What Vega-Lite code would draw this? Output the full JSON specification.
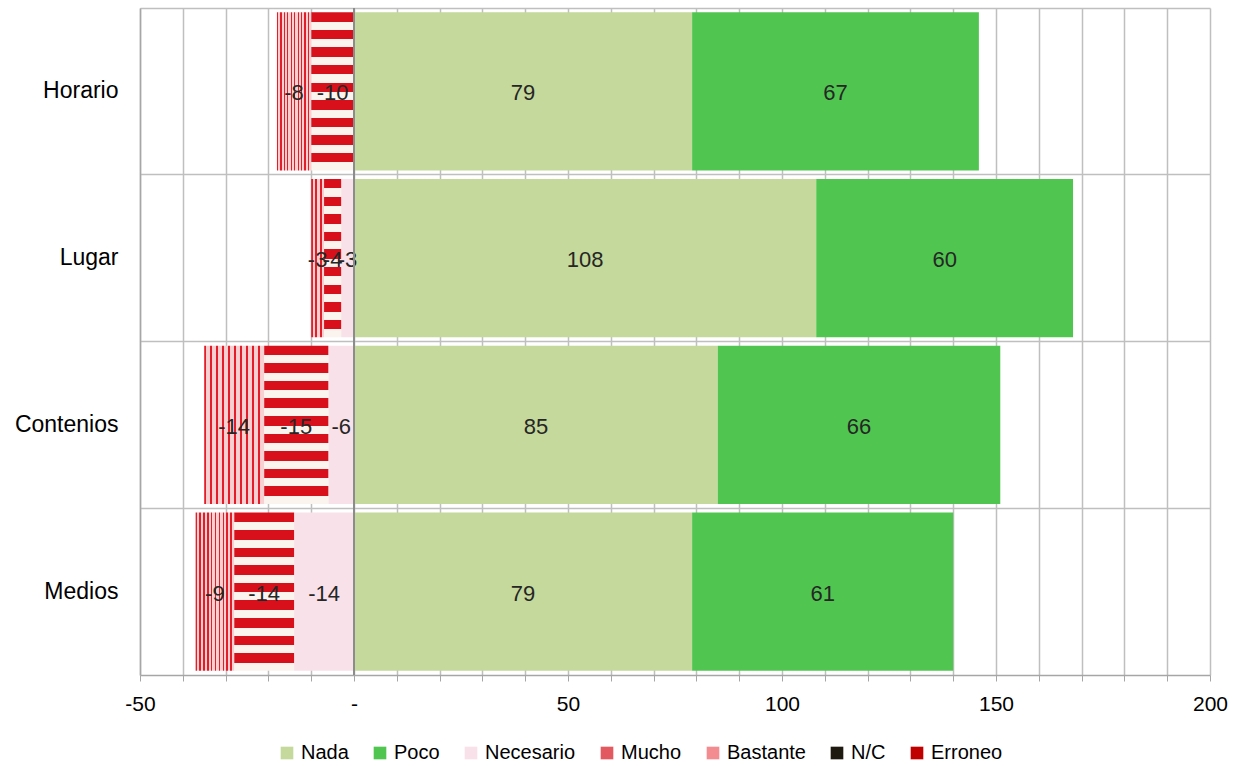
{
  "$schema": "https://vega.github.io/schema/vega-lite/v6.json",
  "width": 1070,
  "height": 667,
  "autosize": {"type": "none"},
  "padding": {"left": 140, "top": 8, "right": 23, "bottom": 91},
  "background": "white",
  "config": {
    "font": "Liberation Sans",
    "view": {"stroke": null},
    "locale": {
      "number": {"decimal": ".", "thousands": ",", "grouping": [3], "currency": ["", ""], "minus": "-"}
    }
  },
  "data": {
    "values": [
      {"categoria": "Horario", "serie": "Nada", "valor": 79},
      {"categoria": "Horario", "serie": "Poco", "valor": 67},
      {"categoria": "Horario", "serie": "Mucho", "valor": -10},
      {"categoria": "Horario", "serie": "Bastante", "valor": -8},
      {"categoria": "Lugar", "serie": "Nada", "valor": 108},
      {"categoria": "Lugar", "serie": "Poco", "valor": 60},
      {"categoria": "Lugar", "serie": "Necesario", "valor": -3},
      {"categoria": "Lugar", "serie": "Mucho", "valor": -4},
      {"categoria": "Lugar", "serie": "Bastante", "valor": -3},
      {"categoria": "Contenios", "serie": "Nada", "valor": 85},
      {"categoria": "Contenios", "serie": "Poco", "valor": 66},
      {"categoria": "Contenios", "serie": "Necesario", "valor": -6},
      {"categoria": "Contenios", "serie": "Mucho", "valor": -15},
      {"categoria": "Contenios", "serie": "Bastante", "valor": -14},
      {"categoria": "Medios", "serie": "Nada", "valor": 79},
      {"categoria": "Medios", "serie": "Poco", "valor": 61},
      {"categoria": "Medios", "serie": "Necesario", "valor": -14},
      {"categoria": "Medios", "serie": "Mucho", "valor": -14},
      {"categoria": "Medios", "serie": "Bastante", "valor": -9}
    ]
  },
  "transform": [
    {"calculate": "indexof(['Nada','Poco','Necesario','Mucho','Bastante'], datum.serie)", "as": "orden"}
  ],
  "encoding": {
    "y": {
      "field": "categoria",
      "type": "nominal",
      "sort": ["Horario", "Lugar", "Contenios", "Medios"],
      "scale": {"paddingInner": 0, "paddingOuter": 0},
      "axis": {
        "title": null,
        "bandPosition": 0,
        "grid": true,
        "gridColor": "#bfbfbf",
        "gridWidth": 1.5,
        "ticks": false,
        "domainColor": "#a6a6a6",
        "domainWidth": 1.5,
        "labelFontSize": 23,
        "labelColor": "#000000",
        "labelPadding": 22
      }
    }
  },
  "layer": [
    {
      "mark": {"type": "bar", "height": {"band": 0.95}},
      "encoding": {
        "x": {
          "field": "valor",
          "type": "quantitative",
          "stack": "zero",
          "scale": {"domain": [-50, 200], "nice": false, "zero": false},
          "axis": {
            "title": null,
            "values": [-50, -40, -30, -20, -10, 0, 10, 20, 30, 40, 50, 60, 70, 80, 90, 100, 110, 120, 130, 140, 150, 160, 170, 180, 190, 200],
            "labelExpr": "datum.value === 0 ? '-' : (datum.value % 50 === 0 ? replace(datum.label, '\u2212', '-') : '')",
            "grid": true,
            "gridColor": "#bfbfbf",
            "gridWidth": 1.5,
            "domainColor": "#a6a6a6",
            "domainWidth": 1.5,
            "tickColor": "#a6a6a6",
            "tickSize": 6,
            "labelFontSize": 21,
            "labelColor": "#000000",
            "labelPadding": 12,
            "labelFlush": false
          }
        },
        "order": {"field": "orden", "type": "quantitative"},
        "fill": {
          "condition": [
            {
              "test": "datum.serie === 'Mucho'",
              "value": {
                "gradient": "linear", "x1": 0, "y1": 0, "x2": 0, "y2": 1,
                "stops": [
                  {"offset": 0, "color": "#d8101c"}, {"offset": 0.06, "color": "#d8101c"},
                  {"offset": 0.06, "color": "#fbf3ee"}, {"offset": 0.1111, "color": "#fbf3ee"},
                  {"offset": 0.1111, "color": "#d8101c"}, {"offset": 0.1711, "color": "#d8101c"},
                  {"offset": 0.1711, "color": "#fbf3ee"}, {"offset": 0.2222, "color": "#fbf3ee"},
                  {"offset": 0.2222, "color": "#d8101c"}, {"offset": 0.2822, "color": "#d8101c"},
                  {"offset": 0.2822, "color": "#fbf3ee"}, {"offset": 0.3333, "color": "#fbf3ee"},
                  {"offset": 0.3333, "color": "#d8101c"}, {"offset": 0.3933, "color": "#d8101c"},
                  {"offset": 0.3933, "color": "#fbf3ee"}, {"offset": 0.4444, "color": "#fbf3ee"},
                  {"offset": 0.4444, "color": "#d8101c"}, {"offset": 0.5044, "color": "#d8101c"},
                  {"offset": 0.5044, "color": "#fbf3ee"}, {"offset": 0.5556, "color": "#fbf3ee"},
                  {"offset": 0.5556, "color": "#d8101c"}, {"offset": 0.6156, "color": "#d8101c"},
                  {"offset": 0.6156, "color": "#fbf3ee"}, {"offset": 0.6667, "color": "#fbf3ee"},
                  {"offset": 0.6667, "color": "#d8101c"}, {"offset": 0.7267, "color": "#d8101c"},
                  {"offset": 0.7267, "color": "#fbf3ee"}, {"offset": 0.7778, "color": "#fbf3ee"},
                  {"offset": 0.7778, "color": "#d8101c"}, {"offset": 0.8378, "color": "#d8101c"},
                  {"offset": 0.8378, "color": "#fbf3ee"}, {"offset": 0.8889, "color": "#fbf3ee"},
                  {"offset": 0.8889, "color": "#d8101c"}, {"offset": 0.9489, "color": "#d8101c"},
                  {"offset": 0.9489, "color": "#fbf3ee"}, {"offset": 1, "color": "#fbf3ee"}
                ]
              }
            },
            {
              "test": "datum.serie === 'Bastante'",
              "value": {
                "gradient": "linear", "x1": 0, "y1": 0, "x2": 1, "y2": 0,
                "stops": [
                  {"offset": 0, "color": "#e31e28"}, {"offset": 0.035, "color": "#e31e28"},
                  {"offset": 0.035, "color": "#f9d0d2"}, {"offset": 0.1, "color": "#f9d0d2"},
                  {"offset": 0.1, "color": "#e31e28"}, {"offset": 0.135, "color": "#e31e28"},
                  {"offset": 0.135, "color": "#f9d0d2"}, {"offset": 0.2, "color": "#f9d0d2"},
                  {"offset": 0.2, "color": "#e31e28"}, {"offset": 0.235, "color": "#e31e28"},
                  {"offset": 0.235, "color": "#f9d0d2"}, {"offset": 0.3, "color": "#f9d0d2"},
                  {"offset": 0.3, "color": "#e31e28"}, {"offset": 0.335, "color": "#e31e28"},
                  {"offset": 0.335, "color": "#f9d0d2"}, {"offset": 0.4, "color": "#f9d0d2"},
                  {"offset": 0.4, "color": "#e31e28"}, {"offset": 0.435, "color": "#e31e28"},
                  {"offset": 0.435, "color": "#f9d0d2"}, {"offset": 0.5, "color": "#f9d0d2"},
                  {"offset": 0.5, "color": "#e31e28"}, {"offset": 0.535, "color": "#e31e28"},
                  {"offset": 0.535, "color": "#f9d0d2"}, {"offset": 0.6, "color": "#f9d0d2"},
                  {"offset": 0.6, "color": "#e31e28"}, {"offset": 0.635, "color": "#e31e28"},
                  {"offset": 0.635, "color": "#f9d0d2"}, {"offset": 0.7, "color": "#f9d0d2"},
                  {"offset": 0.7, "color": "#e31e28"}, {"offset": 0.735, "color": "#e31e28"},
                  {"offset": 0.735, "color": "#f9d0d2"}, {"offset": 0.8, "color": "#f9d0d2"},
                  {"offset": 0.8, "color": "#e31e28"}, {"offset": 0.835, "color": "#e31e28"},
                  {"offset": 0.835, "color": "#f9d0d2"}, {"offset": 0.9, "color": "#f9d0d2"},
                  {"offset": 0.9, "color": "#e31e28"}, {"offset": 0.935, "color": "#e31e28"},
                  {"offset": 0.935, "color": "#f9d0d2"}, {"offset": 1, "color": "#f9d0d2"}
                ]
              }
            }
          ],
          "field": "serie",
          "type": "nominal",
          "scale": {
            "domain": ["Nada", "Poco", "Necesario", "Mucho", "Bastante", "N/C", "Erroneo"],
            "range": ["#c4d99b", "#50c650", "#f8e1e9", "#e25a60", "#f28c90", "#1f1a10", "#c00000"]
          },
          "legend": {
            "title": null,
            "orient": "none",
            "legendX": 137,
            "legendY": 735,
            "direction": "horizontal",
            "symbolType": "square",
            "symbolSize": 160,
            "symbolStrokeWidth": 0,
            "labelFontSize": 20,
            "labelColor": "#000000",
            "labelOffset": 4,
            "columnPadding": 21
          }
        }
      }
    },
    {
      "mark": {"type": "text", "fontSize": 22, "color": "#262626", "align": "center", "baseline": "middle", "dy": 2},
      "encoding": {
        "x": {"field": "valor", "type": "quantitative", "stack": "zero", "bandPosition": 0.5},
        "order": {"field": "orden", "type": "quantitative"},
        "detail": {"field": "serie", "type": "nominal"},
        "text": {"field": "valor", "type": "quantitative", "format": "d"}
      }
    },
    {
      "data": {"values": [{"cero": 0}]},
      "mark": {"type": "rule", "color": "#8c8c8c", "strokeWidth": 2},
      "encoding": {"x": {"field": "cero", "type": "quantitative"}, "y": {"value": 0}, "y2": {"value": 667}}
    }
  ]
}
